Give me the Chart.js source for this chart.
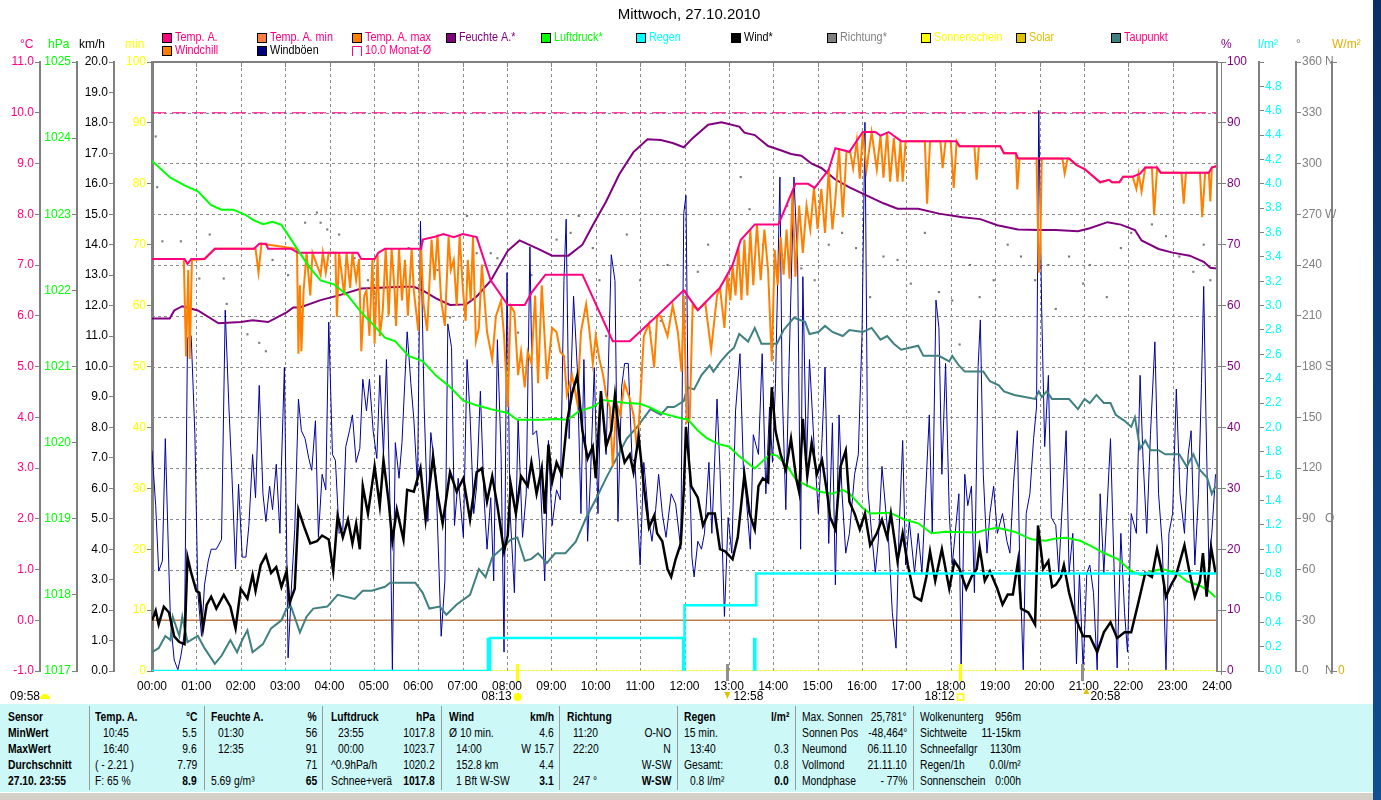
<!DOCTYPE html>
<html>
<head>
<meta charset="utf-8">
<script src="https://cdn.jsdelivr.net/npm/chart.js"></script>
<style>
  body { margin:0; background:#fff; width:1381px; height:800px; overflow:hidden; position:relative;
         font-family:"Liberation Sans", Arial, sans-serif; }
  #wrap { position:absolute; left:0; top:0; width:1373px; height:704px; }
  #edge { position:absolute; left:1373px; top:0; width:8px; height:800px; background:linear-gradient(#0a2f66,#0f4f92); }
  #stats { position:absolute; left:0; top:704px; width:1373px; height:88px; background:#ccf8f8; font-size:12px; color:#000; }
  #stats .sep { position:absolute; top:2px; height:84px; width:0; border-left:1px solid #9a9a9a; }
  #stats .t { position:absolute; height:16px; line-height:16px; white-space:nowrap; transform:scaleX(0.86); transform-origin:left center; }
  #stats .r { transform-origin:right center; }
  #stats .b { font-weight:bold; }
  #status { position:absolute; left:0; top:792px; width:1373px; height:8px; background:#d4d0c8; border-top:1px solid #fff; }
</style>
</head>
<body>
<div id="wrap"><canvas id="chart" width="1373" height="704"></canvas></div>
<div id="stats"></div>
<div id="status"></div>
<div id="edge"></div>
<script>
// ---- data (x = minutes since 00:00) ----
const hourLabels = ['00:00','01:00','02:00','03:00','04:00','05:00','06:00','07:00','08:00','09:00','10:00','11:00','12:00',
  '13:00','14:00','15:00','16:00','17:00','18:00','19:00','20:00','21:00','22:00','23:00','24:00'];

const tempA = [[0,7.12],[44,7.12],[48,7.02],[53,7.12],[71,7.12],[85,7.32],[138,7.32],[145,7.42],[154,7.42],[157,7.32],
  [188,7.32],[198,7.24],[278,7.24],[283,7.12],[301,7.12],[306,7.24],[315,7.32],[364,7.32],[366,7.5],[381,7.55],[394,7.61],
  [408,7.55],[420,7.61],[439,7.55],[458,6.7],[481,6.21],[504,6.21],[513,6.45],[532,6.81],[582,6.81],[623,5.5],[646,5.5],
  [688,6.07],[719,6.5],[738,6.11],[756,6.38],[768,6.55],[785,7.0],[796,7.49],[815,7.8],[847,7.8],[870,8.6],[887,8.6],
  [896,8.52],[915,8.88],[924,9.3],[943,9.23],[961,9.62],[978,9.62],[985,9.55],[996,9.62],[1013,9.44],[1087,9.44],[1092,9.34],
  [1147,9.34],[1152,9.2],[1168,9.2],[1171,9.1],[1240,9.1],[1250,8.97],[1261,8.89],[1282,8.63],[1294,8.68],[1298,8.63],
  [1308,8.63],[1313,8.74],[1326,8.74],[1336,8.8],[1343,8.92],[1359,8.92],[1364,8.82],[1429,8.82],[1433,8.92],[1440,8.95]];

const windchill = [[0,7.12],[43,7.12],[46,5.2],[49,6.9],[51,5.15],[54,7.1],[71,7.12],[85,7.32],[140,7.32],[144,6.85],[148,7.42],
  [196,7.32],[198,5.25],[200,6.6],[202,5.3],[205,6.5],[209,7.24],[214,6.4],[217,7.24],[228,6.8],[231,7.24],[235,6.85],[239,7.24],
  [248,7.24],[250,5.98],[253,7.24],[260,6.4],[263,7.24],[268,6.55],[271,7.24],[276,6.7],[280,7.12],[283,5.3],[287,6.4],[290,6.5],
  [294,5.6],[298,7.12],[301,5.45],[305,7.2],[308,5.6],[312,6.1],[316,7.32],[320,6.0],[324,7.32],[328,6.5],[330,5.8],[334,7.32],
  [338,6.3],[342,7.1],[346,6.0],[351,7.32],[354,6.5],[360,5.7],[364,7.32],[367,6.25],[372,5.7],[378,7.5],[382,6.7],[386,7.6],
  [391,6.3],[396,5.8],[401,7.55],[404,6.9],[408,7.1],[412,6.2],[416,7.6],[420,6.6],[424,5.9],[427,7.1],[431,6.3],[434,7.55],
  [438,5.5],[442,5.76],[446,7.01],[453,5.68],[460,5.14],[465,5.99],[472,6.3],[476,5.6],[481,4.2],[485,6.2],[490,6.07],[495,4.83],
  [499,5.29],[504,4.59],[508,5.29],[513,5.06],[518,6.4],[522,4.67],[527,6.6],[534,4.75],[541,5.76],[547,5.68],[552,5.29],
  [557,5.21],[561,4.44],[568,4.83],[575,4.28],[580,5.68],[587,6.23],[591,5.76],[596,5.06],[600,5.6],[605,5.14],[610,4.83],
  [614,4.44],[619,4.2],[623,3.03],[628,4.28],[633,4.05],[639,4.67],[646,4.36],[651,4.05],[656,3.35],[660,4.28],[665,5.6],
  [672,5.85],[679,4.98],[683,5.99],[688,5.99],[697,5.6],[704,6.2],[711,5.68],[716,4.9],[719,6.4],[723,3.9],[727,3.97],[731,6.2],
  [738,6.11],[748,6.26],[756,5.33],[764,6.4],[768,6.55],[774,5.76],[778,6.8],[782,6.3],[785,7.0],[789,6.4],[793,7.35],[797,6.31],
  [801,7.5],[805,6.4],[809,7.7],[813,6.6],[818,7.8],[823,6.7],[828,7.7],[833,6.9],[838,5.1],[842,7.3],[846,6.6],[850,7.55],
  [854,6.81],[858,7.7],[862,6.73],[866,8.45],[870,6.77],[875,8.17],[880,7.24],[885,8.17],[890,7.7],[895,8.52],[900,7.71],
  [905,8.5],[910,7.63],[915,8.88],[920,7.7],[924,8.3],[929,9.3],[934,7.94],[939,9.23],[944,9.23],[948,8.9],[953,9.45],[957,8.7],
  [961,9.62],[966,8.88],[973,9.62],[980,8.88],[985,9.55],[989,8.72],[994,9.62],[998,8.64],[1003,9.5],[1008,8.64],[1012,9.44],
  [1015,8.64],[1019,9.44],[1045,9.44],[1048,8.21],[1052,9.44],[1066,9.44],[1069,8.91],[1073,9.44],[1080,9.44],[1084,8.52],
  [1088,9.44],[1092,9.34],[1112,9.34],[1115,8.68],[1118,9.34],[1147,9.34],[1152,9.2],[1168,9.2],[1170,8.49],[1173,9.1],[1196,9.1],
  [1199,6.85],[1201,7.3],[1203,9.1],[1231,9.1],[1234,8.8],[1238,9.1],[1240,9.1],[1250,8.97],[1261,8.89],[1282,8.63],[1294,8.68],
  [1298,8.63],[1308,8.63],[1313,8.74],[1326,8.74],[1331,8.5],[1334,8.8],[1338,8.45],[1343,8.92],[1352,8.92],[1355,7.98],
  [1359,8.92],[1364,8.82],[1392,8.82],[1395,8.21],[1398,8.82],[1417,8.82],[1420,7.94],[1424,8.82],[1429,8.82],[1431,8.25],
  [1433,8.92],[1440,8.95]];

const feuchte = [[0,57.9],[24,57.9],[30,59.2],[41,59.9],[62,59.2],[90,57.1],[120,57.3],[136,57.6],[157,57.3],[182,58.9],
  [191,59.7],[200,59.7],[228,60.9],[256,61.8],[283,62.8],[301,62.9],[338,63.1],[354,63.1],[366,62.5],[384,61.2],[403,60.1],
  [425,60.2],[439,61.5],[458,64.1],[481,69.0],[497,70.7],[522,69.3],[541,68.2],[563,68.2],[582,70.0],[596,73.2],[614,77.1],
  [632,81.6],[651,85.2],[670,87.3],[688,87.2],[704,86.7],[719,86.0],[731,87.5],[752,89.7],[770,90.1],[794,89.4],[801,88.4],
  [815,88.0],[833,86.2],[850,85.5],[864,84.9],[878,84.6],[892,83.3],[905,82.6],[924,80.7],[943,79.4],[961,78.4],[989,76.8],
  [1008,75.9],[1036,75.9],[1064,75.1],[1096,74.5],[1120,74.2],[1143,73.2],[1171,72.5],[1199,72.4],[1222,72.4],[1252,72.2],
  [1268,72.7],[1292,73.7],[1310,73.3],[1329,72.4],[1338,70.7],[1361,69.3],[1380,68.7],[1403,68.2],[1422,67.2],[1431,66.2],
  [1440,66.1]];

const luftdruck = [[0,1023.70],[25,1023.48],[44,1023.38],[62,1023.30],[80,1023.12],[94,1023.06],[110,1023.06],[127,1022.99],
  [136,1022.93],[150,1022.87],[163,1022.90],[175,1022.86],[186,1022.70],[200,1022.49],[214,1022.29],[228,1022.13],[246,1022.08],
  [265,1021.93],[283,1021.71],[301,1021.53],[315,1021.38],[329,1021.33],[347,1021.14],[366,1021.07],[384,1020.88],[403,1020.73],
  [421,1020.55],[439,1020.49],[458,1020.44],[481,1020.39],[494,1020.30],[527,1020.30],[545,1020.31],[562,1020.30],[577,1020.41],
  [596,1020.47],[610,1020.56],[642,1020.52],[660,1020.51],[674,1020.46],[688,1020.39],[719,1020.31],[724,1020.31],[738,1020.16],
  [750,1020.06],[766,1019.98],[780,1019.95],[794,1019.82],[815,1019.66],[827,1019.77],[836,1019.85],[845,1019.83],[859,1019.69],
  [871,1019.51],[887,1019.43],[905,1019.35],[920,1019.33],[934,1019.38],[943,1019.33],[961,1019.14],[971,1019.07],[998,1019.08],
  [1017,1018.99],[1036,1018.94],[1054,1018.81],[1073,1018.83],[1115,1018.82],[1129,1018.86],[1143,1018.88],[1166,1018.83],
  [1189,1018.73],[1208,1018.71],[1222,1018.74],[1236,1018.75],[1255,1018.71],[1268,1018.65],[1287,1018.55],[1306,1018.47],
  [1324,1018.31],[1338,1018.26],[1352,1018.31],[1366,1018.34],[1385,1018.29],[1399,1018.18],[1417,1018.12],[1429,1018.05],
  [1438,1017.97]];

const taupunkt = [[0,-0.63],[9,-0.55],[18,-0.31],[25,-0.39],[28,0.07],[37,-0.31],[41,0.07],[48,-0.43],[62,-0.31],[71,-0.55],
  [85,-0.86],[94,-0.70],[106,-0.39],[115,-0.63],[122,-0.39],[129,-0.20],[136,-0.63],[150,-0.47],[161,-0.16],[175,0.0],[182,0.23],
  [188,0.27],[200,-0.24],[209,0.07],[218,0.23],[237,0.27],[251,0.50],[274,0.42],[285,0.58],[297,0.58],[315,0.66],[322,0.74],
  [356,0.74],[366,0.54],[375,0.23],[389,0.27],[398,0.11],[412,0.31],[430,0.50],[442,1.01],[451,0.85],[460,1.24],[472,1.40],
  [485,1.59],[494,1.63],[504,1.17],[513,1.21],[522,1.32],[534,1.13],[545,1.32],[559,1.32],[573,1.55],[587,2.02],[601,2.41],
  [614,2.80],[628,3.19],[642,3.58],[656,3.81],[674,4.16],[688,4.05],[697,4.20],[706,4.20],[719,4.32],[724,4.59],[733,4.55],
  [743,4.83],[754,5.02],[759,4.90],[769,5.10],[778,5.25],[787,5.37],[794,5.64],[806,5.49],[815,5.76],[824,5.45],[845,5.45],
  [854,5.72],[868,5.96],[883,5.88],[889,5.64],[901,5.68],[910,5.80],[920,5.68],[934,5.60],[943,5.72],[961,5.68],[973,5.76],
  [985,5.53],[994,5.60],[1003,5.45],[1013,5.33],[1036,5.41],[1043,5.21],[1064,5.21],[1078,5.10],[1082,5.21],[1091,5.02],
  [1099,4.90],[1124,4.90],[1133,4.71],[1145,4.63],[1152,4.51],[1166,4.44],[1194,4.36],[1199,4.51],[1203,4.40],[1210,4.51],
  [1217,4.36],[1240,4.36],[1252,4.16],[1261,4.36],[1268,4.28],[1277,4.44],[1287,4.28],[1296,4.28],[1303,4.05],[1315,3.93],
  [1324,3.81],[1329,4.00],[1336,3.38],[1343,3.54],[1350,3.35],[1361,3.35],[1370,3.27],[1389,3.27],[1399,3.03],[1408,3.27],
  [1417,2.96],[1427,2.80],[1433,2.49],[1438,2.64]];

const wind = [[0,1.66],[5,1.98],[9,1.53],[16,2.11],[23,1.92],[30,1.14],[37,0.95],[44,0.88],[48,3.74],[53,3.22],[60,2.63],
  [64,2.57],[69,1.40],[74,2.18],[80,2.44],[87,2.05],[97,2.50],[106,2.11],[113,1.40],[120,2.70],[129,2.38],[136,3.16],[140,2.63],
  [147,3.48],[154,3.80],[161,3.22],[168,3.41],[175,2.76],[182,3.28],[186,2.24],[193,2.70],[198,5.30],[205,4.78],[214,4.19],
  [223,4.26],[230,4.45],[239,4.32],[245,3.28],[251,5.10],[258,4.39],[265,4.97],[271,4.19],[276,4.84],[281,4.0],[285,6.07],
  [292,5.17],[301,6.72],[308,5.43],[313,6.92],[320,5.56],[325,4.26],[331,5.30],[340,4.32],[345,5.95],[354,5.89],[363,6.66],
  [370,4.97],[380,7.05],[386,5.82],[393,4.84],[403,6.53],[412,5.89],[421,6.33],[430,4.97],[439,6.53],[446,6.66],[453,5.56],
  [460,6.40],[467,5.43],[476,3.93],[481,4.45],[485,6.14],[492,5.17],[499,6.40],[508,6.07],[513,6.85],[520,5.82],[527,6.66],
  [531,5.17],[536,7.44],[541,6.20],[547,6.85],[554,6.46],[561,8.15],[568,9.12],[575,9.71],[582,7.89],[589,6.98],[596,7.37],
  [600,6.33],[607,9.19],[614,7.37],[621,7.89],[626,9.06],[633,7.50],[639,6.85],[646,7.11],[651,6.53],[658,7.70],[665,6.07],
  [672,4.71],[679,5.10],[683,4.52],[690,4.26],[697,3.35],[702,3.09],[708,3.67],[715,4.19],[719,5.95],[722,8.02],[729,6.07],
  [738,5.69],[745,4.78],[752,5.17],[761,5.17],[768,4.0],[775,3.93],[785,3.67],[792,4.39],[801,6.46],[808,5.17],[815,4.65],
  [820,6.07],[826,6.33],[833,6.20],[838,9.32],[843,7.89],[850,7.11],[857,6.59],[864,7.63],[871,6.33],[875,5.88],[880,8.28],
  [886,6.40],[892,7.50],[899,6.46],[906,6.92],[913,5.82],[917,5.04],[924,4.65],[931,6.72],[938,7.24],[943,5.56],[950,5.17],
  [957,4.65],[964,5.17],[971,4.13],[980,4.52],[987,4.97],[994,4.39],[999,5.17],[1008,3.61],[1015,4.52],[1022,3.48],[1031,2.44],
  [1040,2.31],[1047,3.09],[1052,3.93],[1059,2.96],[1068,4.0],[1078,2.70],[1085,3.61],[1092,3.35],[1101,2.70],[1108,3.09],
  [1115,3.35],[1119,4.06],[1126,2.96],[1133,3.28],[1143,2.70],[1150,2.18],[1157,2.51],[1164,2.51],[1171,3.61],[1175,2.05],
  [1185,1.92],[1194,1.53],[1198,4.78],[1205,3.35],[1212,3.61],[1217,2.76],[1222,2.83],[1229,3.09],[1233,3.48],[1240,2.57],
  [1250,1.66],[1259,1.14],[1268,1.14],[1278,0.62],[1287,1.27],[1296,1.60],[1305,1.08],[1315,1.27],[1324,1.27],[1333,2.18],
  [1343,3.22],[1352,3.09],[1359,4.0],[1366,3.22],[1371,2.44],[1378,2.83],[1384,3.09],[1396,4.13],[1403,3.22],[1410,2.44],
  [1417,2.96],[1421,3.87],[1426,2.44],[1432,4.06],[1438,3.22]];

const windboeen = [[0,7.24],[5,5.43],[9,3.28],[14,3.61],[18,7.63],[23,3.22],[25,1.66],[30,0.36],[35,0.04],[39,0.49],[44,1.27],
  [48,10.94],[53,11.01],[58,7.76],[62,2.57],[67,1.14],[71,2.83],[76,3.61],[80,4.0],[87,4.0],[94,4.32],[99,11.85],[104,8.67],
  [108,6.46],[113,3.35],[117,6.14],[122,3.74],[127,3.74],[131,4.78],[136,7.11],[140,5.69],[145,9.38],[150,5.82],[154,4.91],
  [159,6.07],[163,5.3],[168,6.79],[173,4.52],[175,6.72],[179,9.97],[184,0.43],[189,2.96],[193,4.65],[198,8.93],[202,7.89],
  [207,7.63],[212,6.98],[216,6.59],[221,8.22],[225,4.39],[230,6.46],[235,5.95],[239,11.46],[244,7.11],[248,6.92],[253,4.52],
  [258,4.65],[262,7.37],[267,7.89],[271,8.41],[276,6.85],[281,7.31],[285,9.58],[290,8.54],[294,9.58],[299,7.89],[304,6.98],
  [308,9.71],[313,7.11],[317,10.23],[322,5.3],[325,0.04],[329,7.5],[334,6.33],[338,7.5],[345,11.14],[350,9.45],[354,8.28],
  [359,6.07],[363,14.77],[368,8.67],[373,4.91],[377,7.83],[384,6.33],[391,1.14],[396,2.96],[400,11.4],[405,10.62],[409,4.78],
  [414,6.33],[421,4.39],[426,10.23],[430,8.41],[435,5.17],[439,6.07],[444,9.19],[449,5.69],[453,4.0],[458,5.69],[462,2.96],
  [467,10.88],[472,7.11],[476,0.62],[480,13.08],[484,5.3],[490,2.57],[495,8.28],[501,4.39],[506,5.82],[511,13.93],[515,7.76],
  [520,7.89],[524,6.85],[531,2.96],[536,7.57],[541,4.78],[547,5.95],[552,5.62],[557,12.82],[560,14.84],[564,7.63],[570,12.31],
  [575,9.97],[580,5.17],[584,10.23],[589,4.26],[593,6.46],[598,9.97],[603,5.17],[607,9.19],[614,7.11],[621,13.67],[626,12.82],
  [630,4.91],[635,9.32],[639,10.1],[644,10.1],[649,6.98],[653,6.85],[660,3.48],[665,6.85],[672,4.91],[676,4.26],[681,5.3],
  [685,6.46],[690,5.17],[695,4.39],[702,5.82],[708,5.49],[715,4.0],[719,15.03],[722,15.62],[725,8.41],[730,3.74],[733,3.09],
  [738,4.26],[743,4.0],[747,4.52],[753,6.85],[757,4.52],[764,8.93],[768,6.59],[774,1.79],[779,5.04],[784,3.87],[789,8.54],
  [795,10.42],[800,6.33],[803,5.82],[809,4.0],[813,7.76],[820,7.11],[825,10.42],[830,5.82],[835,8.67],[839,6.85],[843,9.45],
  [849,16.22],[852,9.32],[857,5.3],[861,9.71],[868,16.22],[873,13.34],[877,4.0],[880,12.95],[885,6.72],[889,10.23],[895,7.5],
  [901,5.17],[906,7.63],[910,9.97],[915,4.19],[920,8.15],[924,2.83],[929,8.41],[933,5.82],[938,3.87],[943,4.52],[950,6.46],
  [955,7.11],[960,11.01],[964,18.02],[968,5.95],[973,4.52],[978,3.22],[982,4.26],[987,6.72],[992,5.3],[996,4.26],[1001,1.92],
  [1006,0.75],[1010,4.52],[1015,7.57],[1019,3.48],[1024,4.91],[1031,3.22],[1036,4.52],[1041,3.22],[1046,5.82],[1051,8.41],
  [1055,4.52],[1060,12.18],[1064,11.27],[1068,6.46],[1073,10.1],[1078,5.17],[1082,3.48],[1086,4.52],[1091,5.82],[1094,0.04],
  [1099,6.46],[1103,5.43],[1108,6.07],[1112,2.57],[1117,10.0],[1120,11.53],[1124,6.46],[1129,3.87],[1133,5.17],[1138,6.07],
  [1143,4.52],[1150,5.17],[1156,4.26],[1160,3.87],[1165,6.2],[1170,7.89],[1173,3.87],[1178,0.04],[1182,5.17],[1187,5.82],
  [1192,7.63],[1196,8.67],[1199,18.41],[1203,11.79],[1207,7.37],[1212,9.71],[1216,5.04],[1222,4.78],[1226,3.22],[1231,5.56],
  [1236,7.89],[1240,3.22],[1245,4.52],[1250,0.23],[1254,3.22],[1259,0.04],[1264,3.22],[1268,3.48],[1273,2.57],[1278,0.04],
  [1282,5.82],[1287,3.22],[1291,5.17],[1296,7.63],[1301,3.22],[1305,0.1],[1310,4.52],[1315,1.92],[1319,0.62],[1324,5.17],
  [1331,4.52],[1336,9.71],[1340,6.98],[1345,4.52],[1350,7.76],[1356,10.81],[1361,5.82],[1366,4.13],[1371,0.04],[1375,4.52],
  [1380,5.17],[1385,9.26],[1390,5.82],[1396,4.52],[1401,7.11],[1405,7.89],[1410,3.48],[1415,5.82],[1419,9.45],[1422,12.63],
  [1425,8.41],[1429,3.48],[1433,4.52],[1438,6.46]];

const richtung = [[5,316],[7,286],[14,254],[39,254],[64,232],[78,258],[97,232],[101,217],[129,199],[145,194],[154,189],[163,243],
  [184,234],[207,265],[223,271],[228,265],[237,261],[253,258],[274,244],[292,231],[301,223],[320,212],[329,209],[347,250],
  [366,254],[386,237],[403,209],[426,269],[439,247],[458,247],[467,244],[495,200],[513,234],[547,255],[566,259],[577,269],
  [596,250],[605,231],[614,198],[642,258],[660,231],[674,200],[688,207],[697,240],[738,236],[752,252],[796,292],[808,273],
  [826,252],[859,275],[878,238],[896,231],[915,252],[933,259],[952,250],[971,221],[989,245],[1008,243],[1026,229],[1045,259],
  [1064,224],[1082,219],[1092,193],[1106,240],[1119,221],[1138,231],[1157,252],[1175,245],[1194,231],[1212,240],[1222,214],
  [1240,245],[1259,229],[1268,240],[1291,221],[1310,250],[1324,259],[1352,264],[1371,257],[1389,245],[1408,236],[1422,252],
  [1431,231]];

const regenZeit = [0, 457, 720, 817, 1440];
const regenSumme = [0, 0.27, 0.54, 0.80, 0.80];
const regen15Zeit = [455, 719, 815];
const regen15Menge = [0.27, 0.27, 0.27];
const monatMittel = 10.0;
const tempMinMax = 0.0;
const sunEvents = [['08:13', 493], ['18:12', 1092]];
const moonEvents = [['12:58', 778], ['20:58', 1258]];

// ---- stats table texts ----
const statSensor = ['Sensor', 'MinWert', 'MaxWert', 'Durchschnitt', '27.10. 23:55'];
const statTemp = [['Temp. A.','°C'],['10:45','5.5'],['16:40','9.6'],['( - 2.21 )','7.79'],['F: 65 %','8.9']];
const statFeuchte = [['Feuchte A.','%'],['01:30','56'],['12:35','91'],['','71'],['5.69 g/m³','65']];
const statLuft = [['Luftdruck','hPa'],['23:55','1017.8'],['00:00','1023.7'],['^0.9hPa/h','1020.2'],['Schnee+verä','1017.8']];
const statWind = [['Wind','km/h'],['Ø 10 min.','4.6'],['14:00','W 15.7'],['152.8 km','4.4'],['1 Bft W-SW','3.1']];
const statRichtung = [['Richtung',''],['11:20','O-NO'],['22:20','N'],['','W-SW'],['247 °','W-SW']];
const statRegen = [['Regen','l/m²'],['15 min.',''],['13:40','0.3'],['Gesamt:','0.8'],['0.8 l/m²','0.0']];
const statSonne = [['Max. Sonnen','25,781°'],['Sonnen Pos','-48,464°'],['Neumond','06.11.10'],['Vollmond','21.11.10'],['Mondphase','- 77%']];
const statWetter = [['Wolkenunterg','956m'],['Sichtweite','11-15km'],['Schneefallgr','1130m'],['Regen/1h','0.0l/m²'],['Sonnenschein','0:00h']];

// ---- table ----
const stats = document.getElementById('stats');
function addT(x, row, text, right, bold) {
  if (!text) return;
  const d = document.createElement('div');
  d.className = 't' + (right ? ' r' : '') + (bold ? ' b' : '');
  d.style.top = (5 + row * 16) + 'px';
  if (right) d.style.right = (1373 - x) + 'px'; else d.style.left = x + 'px';
  d.textContent = text;
  stats.appendChild(d);
}
function addSep(x) {
  const d = document.createElement('div');
  d.className = 'sep'; d.style.left = x + 'px';
  stats.appendChild(d);
}
statSensor.forEach((s, i) => addT(8, i, s, false, true));
const cols = [
  [statTemp, 89, 95, 197, 103, [1,2]],
  [statFeuchte, 204, 211, 317, 218, [1,2]],
  [statLuft, 322, 331, 435, 338, [1,2]],
  [statWind, 441, 449, 554, 456, [2,3,4]],
  [statRichtung, 559, 567, 671, 573, [1,2,4]],
  [statRegen, 677, 684, 789, 690, [2,4]]
];
cols.forEach(([rows, sep, lx, rx, ix, ind]) => {
  addSep(sep);
  rows.forEach((r, i) => {
    addT(ind.includes(i) ? ix : lx, i, r[0], false, i === 0);
    addT(rx, i, r[1], true, i === 0 || i === 4);
  });
});
addSep(795);
statSonne.forEach((r, i) => { addT(802, i, r[0]); addT(907, i, r[1], true); });
addSep(913);
statWetter.forEach((r, i) => { addT(920, i, r[0]); addT(1021, i, r[1], true); });

// ---- chart ----
const FONT = '"Liberation Sans", Arial, sans-serif';
const pts = a => a.map(p => ({ x: p[0], y: p[1] }));
const flat = v => [{ x: 0, y: v }, { x: 1440, y: v }];

const legendItems = [
  ['Temp. A.', '#ff0080', '#ff0080', 162, 0], ['Temp. A. min', '#ff8040', '#ff0080', 257, 0],
  ['Temp. A. max', '#ff8000', '#ff0080', 352, 0], ['Feuchte A.*', '#800080', '#800080', 446, 0],
  ['Luftdruck*', '#00ff00', '#00ff00', 541, 0], ['Regen', '#00ffff', '#00ffff', 636, 0],
  ['Wind*', '#000000', '#000000', 731, 0], ['Richtung*', '#808080', '#808080', 827, 0],
  ['Sonnenschein', '#ffff00', '#ffff00', 921, 0], ['Solar', '#e0c000', '#e0c000', 1016, 0],
  ['Taupunkt', '#408080', '#ff0080', 1111, 0],
  ['Windchill', '#ff8000', '#ff0080', 162, 1], ['Windböen', '#000080', '#000000', 257, 1],
  ['10.0 Monat-Ø', null, '#ff0080', 352, 1]
];
const axisTitles = [['°C', '#ff0080', 20], ['hPa', '#00ff00', 48], ['km/h', '#000000', 79], ['min', '#ffff00', 125],
  ['%', '#800080', 1221], ['l/m²', '#00ffff', 1258], ['°', '#808080', 1296], ['W/m²', '#e0b000', 1332]];
const compass = [[360, 'N'], [270, 'W'], [180, 'S'], [90, 'O'], [0, 'N']];

function narrowText(ctx, txt, x, y, sx) {
  ctx.save(); ctx.translate(x, y); ctx.scale(sx, 1); ctx.fillText(txt, 0, 0); ctx.restore();
}

const decor = {
  id: 'decor',
  beforeDatasetsDraw(chart) {
    const { ctx, chartArea: a, scales: s } = chart;
    ctx.save();
    ctx.strokeStyle = '#8a8a8a';
    ctx.lineWidth = 1;
    ctx.setLineDash([3, 3]);
    for (let t = 1; t <= 10; t++) {
      const y = Math.round(s.yT.getPixelForValue(t)) + 0.5;
      ctx.beginPath(); ctx.moveTo(a.left, y); ctx.lineTo(a.right, y); ctx.stroke();
    }
    for (let h = 1; h < 24; h++) {
      const x = Math.round(s.x.getPixelForValue(h * 60)) + 0.5;
      ctx.beginPath(); ctx.moveTo(x, a.top); ctx.lineTo(x, a.bottom); ctx.stroke();
    }
    ctx.restore();
  },
  afterDraw(chart) {
    const { ctx, chartArea: a, scales: s } = chart;
    ctx.save();
    // frame
    ctx.strokeStyle = '#808080';
    ctx.lineWidth = 2;
    ctx.beginPath(); ctx.moveTo(a.left, a.top); ctx.lineTo(a.right + 1, a.top); ctx.stroke();
    ctx.beginPath(); ctx.moveTo(a.right, a.top); ctx.lineTo(a.right, a.bottom); ctx.stroke();
    ctx.lineWidth = 1;
    ctx.beginPath(); ctx.moveTo(a.right + 4.5, a.top); ctx.lineTo(a.right + 4.5, a.bottom + 4); ctx.stroke();
    for (let h = 1; h < 24; h++) {
      const x = Math.round(s.x.getPixelForValue(h * 60)) + 0.5;
      ctx.beginPath(); ctx.moveTo(x, a.top); ctx.lineTo(x, a.top + 5); ctx.stroke();
    }
    // title
    ctx.fillStyle = '#000';
    ctx.font = '15px ' + FONT;
    ctx.textAlign = 'center'; ctx.textBaseline = 'middle';
    ctx.fillText('Mittwoch, 27.10.2010', 689, 15);
    // legend
    ctx.font = '12px ' + FONT;
    ctx.textAlign = 'left';
    legendItems.forEach(([txt, fill, tc, x, row]) => {
      const y = row === 0 ? 38 : 51;
      if (fill) {
        ctx.fillStyle = fill; ctx.fillRect(x, y - 5, 10, 10);
        ctx.strokeStyle = '#000'; ctx.lineWidth = 1; ctx.strokeRect(x + 0.5, y - 4.5, 9, 9);
      } else {
        ctx.strokeStyle = '#ff0080'; ctx.lineWidth = 1;
        ctx.beginPath(); ctx.moveTo(x + 0.5, y + 5); ctx.lineTo(x + 0.5, y - 4.5); ctx.lineTo(x + 9.5, y - 4.5); ctx.lineTo(x + 9.5, y + 5); ctx.stroke();
      }
      ctx.fillStyle = tc; narrowText(ctx, txt, x + 13, y, 0.9);
    });
    // axis titles
    axisTitles.forEach(([txt, c, x]) => { ctx.fillStyle = c; ctx.fillText(txt, x, 45); });
    // compass letters
    ctx.fillStyle = '#808080';
    compass.forEach(([d, l]) => ctx.fillText(l, 1325, s.yDeg.getPixelForValue(d)));
    // sun / moon markers
    const mark = (min, col) => {
      const x = Math.round(s.x.getPixelForValue(min));
      ctx.fillStyle = col; ctx.fillRect(x - 1, a.bottom - 7, 3, 17);
    };
    sunEvents.forEach(e => mark(e[1], '#ffff00'));
    moonEvents.forEach(e => mark(e[1], '#909090'));
    ctx.fillStyle = '#000';
    ctx.textBaseline = 'middle';
    const yb = 697;
    // sunrise
    let x = s.x.getPixelForValue(sunEvents[0][1]);
    ctx.textAlign = 'right'; ctx.fillText(sunEvents[0][0], x - 5, yb);
    ctx.fillStyle = '#ffff00'; ctx.beginPath(); ctx.arc(x + 1, yb, 4, 0, Math.PI * 2); ctx.fill();
    // sunset
    x = s.x.getPixelForValue(sunEvents[1][1]);
    ctx.fillStyle = '#000'; ctx.fillText(sunEvents[1][0], x - 5, yb);
    ctx.strokeStyle = '#ffff00'; ctx.lineWidth = 1.5; ctx.strokeRect(x - 2, yb - 3, 6, 6);
    // moon
    ctx.textAlign = 'left';
    moonEvents.forEach((e, i) => {
      const mx = s.x.getPixelForValue(e[1]);
      ctx.fillStyle = '#e0c000';
      ctx.beginPath();
      if (i === 0) { ctx.moveTo(mx - 3, yb - 5); ctx.lineTo(mx + 3, yb - 5); ctx.lineTo(mx, yb + 2); }
      else { ctx.moveTo(mx + 1, yb - 3); ctx.lineTo(mx + 7, yb - 3); ctx.lineTo(mx + 4, yb - 9); }
      ctx.closePath(); ctx.fill();
      ctx.fillStyle = '#000';
      ctx.fillText(e[0], mx + (i === 0 ? 6 : 8), yb);
    });
    // day length
    ctx.fillText('09:58', 10, yb);
    ctx.fillStyle = '#ffff00';
    ctx.beginPath(); ctx.arc(45, yb + 2, 5, Math.PI, 0); ctx.fill();
    ctx.restore();
  }
};

const tickFont = { family: FONT, size: 12 };
function yAxis(pos, weight, width, min, max, step, color, cb, extra) {
  return Object.assign({
    type: 'linear', position: pos, weight, min, max,
    ticks: { stepSize: step, color, font: tickFont, autoSkip: false, maxTicksLimit: 100, padding: 1, callback: cb },
    grid: { drawOnChartArea: false, color: '#808080', tickLength: 5, tickWidth: 1 },
    border: { color: '#808080', width: 2 },
    afterFit: sc => { sc.width = width; }
  }, extra || {});
}

new Chart(document.getElementById('chart'), {
  type: 'line',
  data: {
    datasets: [
      { label: 'Wind*', data: pts(wind), borderColor: '#000000', borderWidth: 2.5, yAxisID: 'yKmh', order: 1 },
      { label: 'Luftdruck*', data: pts(luftdruck), borderColor: '#00ff00', borderWidth: 2, yAxisID: 'yHpa', order: 2 },
      { label: 'Temp. A.', data: pts(tempA), borderColor: '#ff0080', borderWidth: 2, yAxisID: 'yT', order: 3 },
      { label: 'Windchill', data: pts(windchill), borderColor: '#ff8000', borderWidth: 2, yAxisID: 'yT', order: 4 },
      { label: 'Feuchte A.*', data: pts(feuchte), borderColor: '#800080', borderWidth: 2, yAxisID: 'yPct', order: 5 },
      { label: 'Taupunkt', data: pts(taupunkt), borderColor: '#408080', borderWidth: 2, yAxisID: 'yT', order: 6 },
      { label: 'Regen', data: regenZeit.map((t, i) => ({ x: t, y: regenSumme[i] })), stepped: true,
        borderColor: '#00ffff', borderWidth: 2.5, yAxisID: 'yRain', order: 0 },
      { type: 'bar', label: 'Regen 15 min', data: regen15Zeit.map((t, i) => ({ x: t, y: regen15Menge[i] })),
        backgroundColor: '#00ffff', barThickness: 3, grouped: false, yAxisID: 'yRain', order: 0 },
      { label: 'Windböen', data: pts(windboeen), borderColor: '#0000a0', borderWidth: 1, yAxisID: 'yKmh', order: 8 },
      { label: '10.0 Monat-Ø', data: flat(monatMittel), borderColor: '#ff0080', borderWidth: 1, borderDash: [14, 6], yAxisID: 'yT', order: 9 },
      { label: 'Temp. A. min', data: flat(tempMinMax), borderColor: '#c07c48', borderWidth: 1.5, yAxisID: 'yT', order: 9 },
      { label: 'Richtung*', data: pts(richtung), showLine: false, pointRadius: 1.5, pointStyle: 'rect',
        pointBackgroundColor: '#7a7a7a', pointBorderWidth: 0, yAxisID: 'yDeg', order: 10 },
      { label: 'Sonnenschein', data: flat(0), borderColor: '#ffff00', borderWidth: 1, yAxisID: 'yMin', order: 11 },
      { label: 'Solar', data: flat(0), borderColor: '#e0c000', borderWidth: 1, borderDash: [2, 2], yAxisID: 'yW', order: 11 }
    ]
  },
  options: {
    responsive: false,
    animation: false,
    devicePixelRatio: 1,
    layout: { padding: { top: 62, bottom: 13, left: 0, right: 0 } },
    elements: { point: { radius: 0 }, line: { tension: 0 } },
    plugins: { legend: { display: false }, tooltip: { enabled: false } },
    scales: {
      x: {
        type: 'linear', min: 0, max: 1440, offset: false,
        ticks: { stepSize: 60, autoSkip: false, maxRotation: 0, maxTicksLimit: 100, color: '#000', font: tickFont, padding: 8,
                 callback: v => hourLabels[Math.round(v / 60)] },
        grid: { display: false, drawTicks: false },
        border: { display: false },
        afterFit: sc => { sc.height = 20; }
      },
      yT: yAxis('left', 4, 40, -1, 11, 1, '#ff0080', v => v.toFixed(1)),
      yHpa: yAxis('left', 3, 37, 1017, 1025, 1, '#00ff00', v => String(v)),
      yKmh: yAxis('left', 2, 37, 0, 20, 1, '#000000', v => v.toFixed(1)),
      yMin: yAxis('left', 1, 38, 0, 100, 10, '#ffff00', v => String(v), { border: { color: '#808080', width: 3 } }),
      yPct: yAxis('right', 1, 42, 0, 100, 10, '#800080', v => String(v),
        { grid: { drawOnChartArea: false, color: '#808080', tickLength: 9, tickWidth: 1 } }),
      yRain: yAxis('right', 2, 37, 0, 5, 0.2, '#00ffff', v => (v > 4.85 ? '' : v.toFixed(1))),
      yDeg: yAxis('right', 3, 36, 0, 360, 30, '#808080', v => String(v)),
      yW: yAxis('right', 4, 41, 0, 1000, 1000, '#e0b000', v => (v === 0 ? '0' : ''))
    }
  },
  plugins: [decor]
});
</script>
</body>
</html>
